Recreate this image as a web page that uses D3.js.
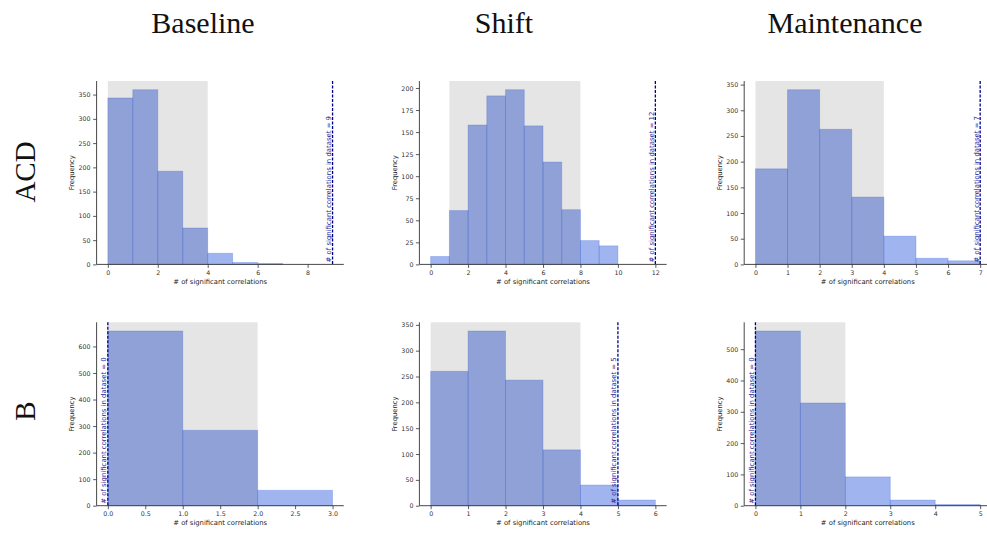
<!DOCTYPE html>
<html>
<head>
<meta charset="utf-8">
<script src="https://cdn.jsdelivr.net/npm/d3@7"></script>
<style>
  html, body { margin: 0; padding: 0; background: #fff; }
  svg { display: block; }
</style>
</head>
<body>
<svg id="chart" width="987" height="534"></svg>
<script>
// ---- data ----
const columnTitles = ["Baseline", "Shift", "Maintenance"];
const rowLabels = ["ACD", "B"];
// histogram counts, bins of width 1 starting at 0
const acdBaseline = [343, 360, 192, 75, 23, 4, 2];
const acdShift = [9, 61, 158, 191, 198, 157, 116, 62, 27, 21];
const acdMaintenance = [186, 340, 263, 131, 55, 12, 7];
const bBaseline = [658, 284, 58];
const bShift = [260, 338, 243, 108, 40, 11];
const bMaintenance = [558, 328, 92, 18, 4];
// observed number of significant correlations in dataset
const acdObserved = [9, 12, 7];
const bObserved = [0, 5, 0];
// shaded interval (null distribution range)
const acdShade = [[0, 4], [1, 8], [0, 4]];
const bShade = [[0, 2], [0, 4], [0, 2]];
// tick steps
const acdYStep = [50, 25, 50];
const bYStep = [100, 50, 100];
const acdXStep = [2, 2, 1];
const bXStep = [0.5, 1, 1];

const panels = [
  { r: 0, c: 0, counts: acdBaseline, obs: acdObserved[0], shade: acdShade[0], ys: acdYStep[0], xs: acdXStep[0] },
  { r: 0, c: 1, counts: acdShift, obs: acdObserved[1], shade: acdShade[1], ys: acdYStep[1], xs: acdXStep[1] },
  { r: 0, c: 2, counts: acdMaintenance, obs: acdObserved[2], shade: acdShade[2], ys: acdYStep[2], xs: acdXStep[2] },
  { r: 1, c: 0, counts: bBaseline, obs: bObserved[0], shade: bShade[0], ys: bYStep[0], xs: bXStep[0] },
  { r: 1, c: 1, counts: bShift, obs: bObserved[1], shade: bShade[1], ys: bYStep[1], xs: bXStep[1] },
  { r: 1, c: 2, counts: bMaintenance, obs: bObserved[2], shade: bShade[2], ys: bYStep[2], xs: bXStep[2] }
];

// ---- layout ----
const colLeft = [96.6, 419.4, 744.2];
const axW = 247.2;
const rowTop = [81, 322.3];
const axH = 183.4;
const titleX = [203, 504, 845];
const rowLabelY = [172, 411];

const svg = d3.select("#chart");

// column titles
columnTitles.forEach((t, i) => {
  svg.append("text")
    .attr("x", titleX[i]).attr("y", 33)
    .attr("text-anchor", "middle")
    .attr("font-family", "Liberation Serif, serif")
    .attr("font-size", 30)
    .attr("fill", "#111")
    .text(t);
});
// row labels
rowLabels.forEach((t, i) => {
  svg.append("text")
    .attr("transform", `translate(35,${rowLabelY[i]}) rotate(-90)`)
    .attr("text-anchor", "middle")
    .attr("font-family", "Liberation Serif, serif")
    .attr("font-size", 29)
    .attr("fill", "#111")
    .text(t);
});

const fmt1 = d3.format(".1f");

panels.forEach(p => {
  const x0 = colLeft[p.c], y0 = rowTop[p.r];
  const g = svg.append("g").attr("transform", `translate(${x0},${y0})`);
  const dataMax = Math.max(p.counts.length, p.obs);
  const pad = dataMax * 0.05;
  const x = d3.scaleLinear().domain([-pad, dataMax + pad]).range([0, axW]);
  const ymax = d3.max(p.counts) * 1.05;
  const y = d3.scaleLinear().domain([0, ymax]).range([axH, 0]);

  const bins = p.counts.map((v, i) => ({ x0: i, x1: i + 1, v }));

  // bars
  g.selectAll("rect.bar").data(bins).enter().append("rect")
    .attr("class", "bar")
    .attr("x", d => x(d.x0))
    .attr("width", d => x(d.x1) - x(d.x0))
    .attr("y", d => y(d.v))
    .attr("height", d => y(0) - y(d.v))
    .attr("fill", "#4169E1").attr("fill-opacity", 0.5)
    .attr("stroke", "#4169E1").attr("stroke-opacity", 0.3).attr("stroke-width", 0.9);

  // shaded interval on top
  g.append("rect")
    .attr("x", x(p.shade[0]))
    .attr("width", x(p.shade[1]) - x(p.shade[0]))
    .attr("y", 0).attr("height", axH)
    .attr("fill", "#000").attr("fill-opacity", 0.1);

  // axes
  const xTicks = d3.range(0, dataMax + 1e-9, p.xs);
  const xAxis = d3.axisBottom(x).tickValues(xTicks).tickSize(3.5).tickPadding(2.5)
    .tickFormat(p.xs < 1 ? fmt1 : d3.format("d"));
  const gx = g.append("g").attr("transform", `translate(0,${axH})`).call(xAxis);
  const yTicks = d3.range(0, ymax, p.ys);
  const yAxis = d3.axisLeft(y).tickValues(yTicks).tickSize(3.5).tickPadding(2.5).tickFormat(d3.format("d"));
  const gy = g.append("g").call(yAxis);
  [gx, gy].forEach(a => {
    a.select(".domain").attr("stroke", "#333").attr("stroke-width", 0.9);
    a.selectAll(".tick line").attr("stroke", "#333").attr("stroke-width", 0.8);
    a.selectAll(".tick text").attr("font-size", 6.3).attr("font-family", "DejaVu Sans, sans-serif").attr("fill", "#333");
  });
  gx.select(".domain").attr("d", `M0,0H${axW}`);
  gy.select(".domain").attr("d", `M0,${axH}V0`);

  // axis labels
  g.append("text")
    .attr("x", axW / 2).attr("y", axH + 19.5)
    .attr("text-anchor", "middle")
    .attr("font-family", "DejaVu Sans, sans-serif").attr("font-size", 6.8).attr("fill", "#222")
    .text("# of significant correlations");
  g.append("text")
    .attr("transform", `translate(-25,${axH / 2}) rotate(-90)`)
    .attr("text-anchor", "middle").attr("dy", "0.35em")
    .attr("font-family", "DejaVu Sans, sans-serif").attr("font-size", 6.8).attr("fill", "#222")
    .text("Frequency");

  // observed line
  g.append("line")
    .attr("x1", x(p.obs)).attr("x2", x(p.obs))
    .attr("y1", 0).attr("y2", axH)
    .attr("stroke", "darkblue").attr("stroke-width", 1.3)
    .attr("stroke-dasharray", "3,1.5");
  g.append("text")
    .attr("transform", `translate(${x(p.obs) - 1.6},${axH - 2}) rotate(-90)`)
    .attr("text-anchor", "start")
    .attr("font-family", "DejaVu Sans, sans-serif").attr("font-size", 6.9).attr("fill", "#22229a")
    .text("# of significant correlations in dataset = " + p.obs);
});
</script>
</body>
</html>
